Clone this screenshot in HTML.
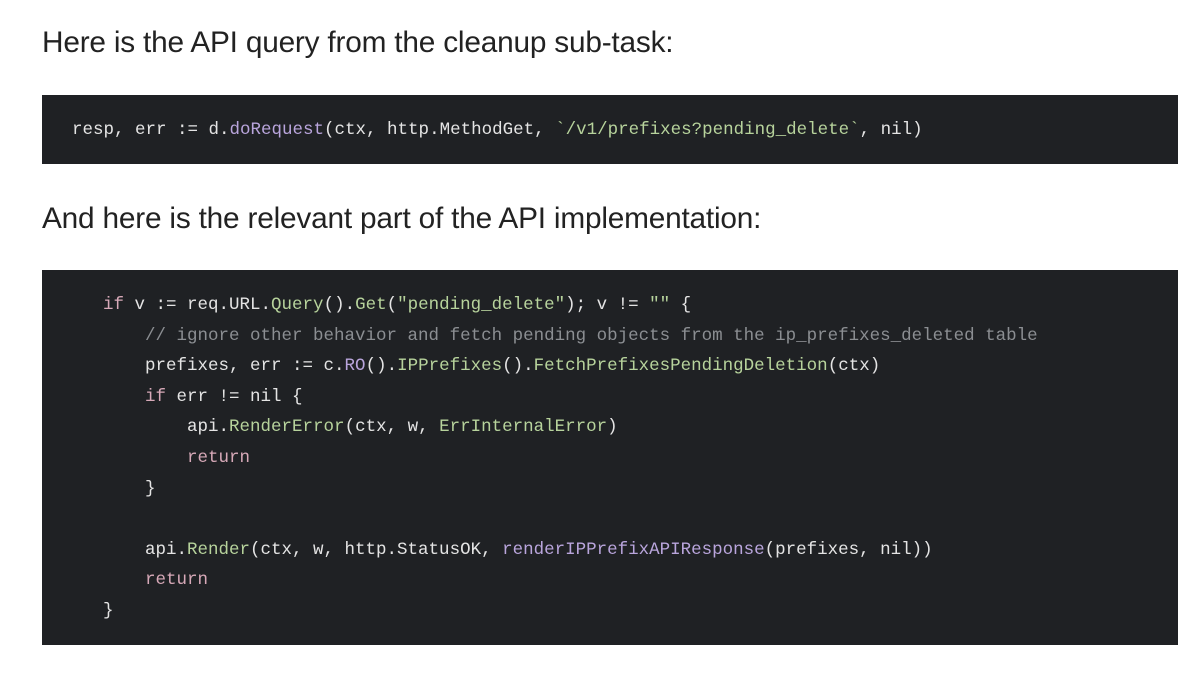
<!DOCTYPE html>
<html><head><style>
body{margin:0;width:1200px;height:674px;background:#fff;position:relative;overflow:hidden;font-family:"Liberation Sans",sans-serif}
h1{position:absolute;left:42px;margin:0;font-weight:normal;font-size:29.8px;color:#222;white-space:nowrap;letter-spacing:-0.2px}
.box{position:absolute;left:42px;width:1136px;background:#1f2124}
pre{margin:0;position:absolute;font-family:"Liberation Mono",monospace;font-size:17.5px;line-height:30.6px;color:#e4e4e4}
.k{color:#d7a9b8}.f{color:#b9a5dc}.g{color:#b7d39c}.c{color:#8b8e92}.s{color:#b7d39c}
</style></head><body>
<h1 style="top:26px">Here is the API query from the cleanup sub-task:</h1>
<div class="box" style="top:95px;height:69px"><pre style="left:30px;top:20px">resp, err := d.<span class="f">doRequest</span>(ctx, http.MethodGet, <span class="s">`/v1/prefixes?pending_delete`</span>, nil)</pre></div>
<h1 style="top:202px">And here is the relevant part of the API implementation:</h1>
<div class="box" style="top:270px;height:375px"><pre style="left:61px;top:20px"><span class="k">if</span> v := req.URL.<span class="g">Query</span>().<span class="g">Get</span>(<span class="s">"pending_delete"</span>); v != <span class="s">""</span> {
    <span class="c">// ignore other behavior and fetch pending objects from the ip_prefixes_deleted table</span>
    prefixes, err := c.<span class="f">RO</span>().<span class="g">IPPrefixes</span>().<span class="g">FetchPrefixesPendingDeletion</span>(ctx)
    <span class="k">if</span> err != nil {
        api.<span class="g">RenderError</span>(ctx, w, <span class="g">ErrInternalError</span>)
        <span class="k">return</span>
    }

    api.<span class="g">Render</span>(ctx, w, http.StatusOK, <span class="f">renderIPPrefixAPIResponse</span>(prefixes, nil))
    <span class="k">return</span>
}</pre></div>
</body></html>
